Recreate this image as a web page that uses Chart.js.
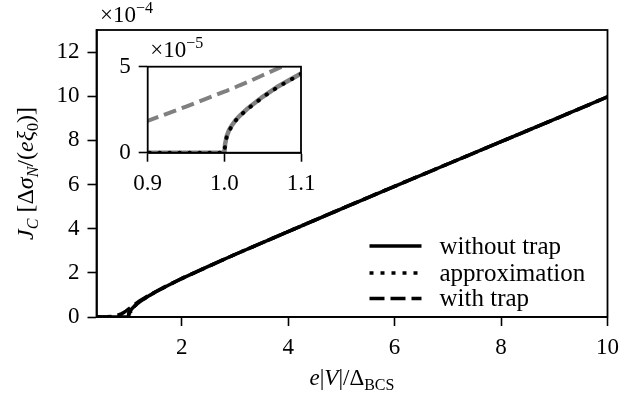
<!DOCTYPE html>
<html>
<head>
<meta charset="utf-8">
<script src="https://cdn.jsdelivr.net/npm/chart.js@4/dist/chart.umd.min.js"></script>
<style>
  html, body { margin: 0; padding: 0; background: #fff; }
  #wrap { position: relative; width: 644px; height: 401px; }
  #mainChart { position: absolute; left: 0; top: 0; }
  #insetChart { position: absolute; left: 90px; top: 30px; }
</style>
</head>
<body>
<div id="wrap">
  <canvas id="mainChart" width="644" height="401"></canvas>
  <canvas id="insetChart" width="240" height="165"></canvas>
</div>
<script>
// bias e|V|/Δ_BCS
const bias = [0.4, 0.5, 0.6, 0.7, 0.8, 0.85, 0.9, 0.95, 1.0,
  1.001, 1.003, 1.006, 1.01, 1.015, 1.02,
  1.03, 1.04, 1.05, 1.07, 1.1,
  1.15, 1.2, 1.3, 1.4, 1.5, 1.75, 2,
  2.5, 3, 4, 5, 6, 7, 8, 9, 10];

// current density J_C, in units of 1e-4
const jWithoutTrap = [0, 0, 0, 0, 0, 0, 0, 0, 0,
  0.05, 0.095, 0.13, 0.16, 0.19, 0.215,
  0.255, 0.29, 0.325, 0.385, 0.46,
  0.57, 0.665, 0.83, 0.98, 1.12, 1.44, 1.74,
  2.29, 2.83, 3.87, 4.9, 5.92, 6.93, 7.94, 8.95, 9.97];
const jApprox = [0, 0, 0, 0, 0, 0, 0, 0, 0,
  0.045, 0.09, 0.125, 0.157, 0.188, 0.213,
  0.253, 0.288, 0.322, 0.383, 0.458,
  0.568, 0.663, 0.83, 0.98, 1.12, 1.44, 1.74,
  2.29, 2.83, 3.87, 4.9, 5.92, 6.93, 7.94, 8.95, 9.97];
const jWithTrap = [0, 0.003, 0.01, 0.03, 0.08, 0.125, 0.185, 0.268, 0.355,
  0.357, 0.36, 0.366, 0.373, 0.382, 0.392,
  0.41, 0.43, 0.45, 0.49, 0.545,
  0.63, 0.71, 0.86, 1.0, 1.13, 1.45, 1.745,
  2.29, 2.83, 3.87, 4.9, 5.92, 6.93, 7.94, 8.95, 9.97];

const seriesLabels = ['without trap', 'approximation', 'with trap'];

const xTicks = [2, 4, 6, 8, 10];
const yTicks = [0, 2, 4, 6, 8, 10, 12];
const insetXTicks = [0.9, 1.0, 1.1];
const insetYTicks = [0, 5];

const SERIF = '"Liberation Serif", "DejaVu Serif", serif';
const GRAY = '#808080';

function font(size, italic) {
  return (italic ? 'italic ' : '') + size + 'px ' + SERIF;
}

function points(ys, scale) {
  return bias.map((x, i) => ({ x: x, y: ys[i] * scale }));
}

// parts: [text, flags]  i = italic, s = subscript, u = superscript
function richText(ctx, parts, x, y, align, size) {
  size = size || 23;
  const pieces = parts.map(([t, f = '']) => {
    const small = f.includes('s') || f.includes('u');
    const fnt = font(small ? 16 : size, f.includes('i'));
    ctx.font = fnt;
    return { t: t, fnt: fnt, w: ctx.measureText(t).width,
      dy: f.includes('s') ? 5 : (f.includes('u') ? -9 : 0) };
  });
  const total = pieces.reduce((a, p) => a + p.w, 0);
  let cx = align === 'center' ? x - total / 2 : x;
  ctx.textAlign = 'left';
  ctx.textBaseline = 'alphabetic';
  ctx.fillStyle = '#000';
  pieces.forEach(p => {
    ctx.font = p.fnt;
    ctx.fillText(p.t, cx, y + p.dy);
    cx += p.w;
  });
}

function frame(ctx, a) {
  ctx.save();
  ctx.strokeStyle = '#000';
  ctx.lineWidth = 1.8;
  ctx.strokeRect(a.left, a.top, a.right - a.left, a.bottom - a.top);
  ctx.restore();
}

function axisOptions(min, max, tickList, fmt, size) {
  return {
    type: 'linear',
    min: min,
    max: max,
    afterBuildTicks: s => { s.ticks = tickList.map(v => ({ value: v })); },
    afterFit: size,
    grid: { drawOnChartArea: false, drawTicks: true, tickLength: 9, tickWidth: 1.6, tickColor: '#000' },
    border: { display: true, color: '#000', width: 1.8 },
    ticks: {
      color: '#000',
      font: { family: SERIF, size: 23 },
      padding: 8,
      autoSkip: false,
      maxRotation: 0,
      callback: fmt
    }
  };
}

const mainDecor = {
  id: 'mainDecor',
  afterDraw(chart) {
    const ctx = chart.ctx, a = chart.chartArea;
    frame(ctx, a);

    // axis titles
    richText(ctx, [['e', 'i'], ['|'], ['V', 'i'], ['|/Δ'], ['BCS', 's']],
      (a.left + a.right) / 2, 385, 'center');
    ctx.save();
    ctx.translate(33, (a.top + a.bottom) / 2);
    ctx.rotate(-Math.PI / 2);
    richText(ctx, [['J', 'i'], ['C', 'is'], [' [Δ'], ['σ', 'i'], ['N', 'is'], ['/('],
      ['e', 'i'], ['ξ', 'i'], ['0', 's'], [')]']], 0, 0, 'center', 24);
    ctx.restore();

    // scale factor
    richText(ctx, [['×10'], ['−4', 'u']], a.left + 3.5, a.top - 8.5, 'left');

    // legend
    const x0 = a.right - 238, x1 = a.right - 186, tx = a.right - 168;
    const rows = [246, 273, 298.5];
    chart.data.datasets.forEach((ds, i) => {
      ctx.save();
      ctx.strokeStyle = ds.borderColor;
      ctx.lineWidth = ds.borderWidth;
      ctx.lineCap = 'butt';
      ctx.setLineDash(ds.borderDash || []);
      ctx.beginPath();
      ctx.moveTo(x0, rows[i]);
      ctx.lineTo(x1, rows[i]);
      ctx.stroke();
      ctx.restore();
      richText(ctx, [[ds.label]], tx, rows[i] + 7.5, 'left', 25);
    });
  }
};

new Chart(document.getElementById('mainChart').getContext('2d'), {
  type: 'line',
  data: {
    datasets: [
      { label: seriesLabels[0], data: points(jWithoutTrap, 1), borderColor: '#000', borderWidth: 3.5 },
      { label: seriesLabels[1], data: points(jApprox, 1), borderColor: '#000', borderWidth: 3.5, borderDash: [4, 7] },
      { label: seriesLabels[2], data: points(jWithTrap, 1), borderColor: '#000', borderWidth: 3.5, borderDash: [15, 6] }
    ]
  },
  options: {
    responsive: false,
    animation: false,
    elements: { point: { radius: 0 }, line: { tension: 0, fill: false } },
    layout: { padding: { left: 0, top: 30, right: 36.5, bottom: 0 } },
    plugins: { legend: { display: false }, tooltip: { enabled: false } },
    scales: {
      x: axisOptions(0.4, 10, xTicks, v => String(v), s => { s.height = 84; }),
      y: axisOptions(0, 13, yTicks, v => String(v), s => { s.width = 96.5; })
    }
  },
  plugins: [mainDecor]
});

const insetDecor = {
  id: 'insetDecor',
  beforeDatasetsDraw(chart) {
    const ctx = chart.ctx, a = chart.chartArea;
    ctx.save();
    ctx.fillStyle = '#fff';
    ctx.fillRect(a.left, a.top, a.right - a.left, a.bottom - a.top);
    ctx.restore();
  },
  afterDraw(chart) {
    const ctx = chart.ctx, a = chart.chartArea;
    frame(ctx, a);
    richText(ctx, [['×10'], ['−5', 'u']], a.left + 2.5, a.top - 10, 'left');
  }
};

// zoom around the gap edge, J in units of 1e-5
new Chart(document.getElementById('insetChart').getContext('2d'), {
  type: 'line',
  data: {
    datasets: [
      { label: seriesLabels[1], data: points(jApprox, 10), borderColor: '#000', borderWidth: 4,
        borderDash: [0.5, 9.5], borderCapStyle: 'round', clip: 0 },
      { label: seriesLabels[0], data: points(jWithoutTrap, 10), borderColor: GRAY, borderWidth: 4.5, clip: 0 },
      { label: seriesLabels[2], data: points(jWithTrap, 10), borderColor: GRAY, borderWidth: 4,
        borderDash: [13, 6], clip: 0 }
    ]
  },
  options: {
    responsive: false,
    animation: false,
    elements: { point: { radius: 0 }, line: { tension: 0, fill: false } },
    layout: { padding: { left: 0, top: 36.7, right: 29, bottom: 0 } },
    plugins: { legend: { display: false }, tooltip: { enabled: false } },
    scales: {
      x: axisOptions(0.9, 1.1, insetXTicks, v => v.toFixed(1), s => { s.height = 42.3; }),
      y: axisOptions(0, 5, insetYTicks, v => String(v), s => { s.width = 57.7; })
    }
  },
  plugins: [insetDecor]
});
</script>
</body>
</html>
